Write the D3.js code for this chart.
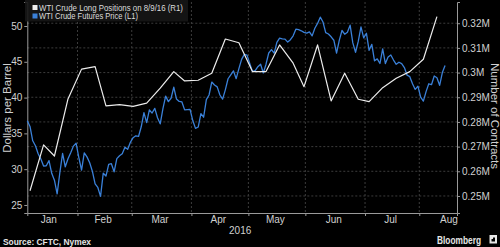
<!DOCTYPE html>
<html><head><meta charset="utf-8">
<script src="https://cdn.jsdelivr.net/npm/d3@7"></script>
<style>
html,body{margin:0;padding:0;background:#000;}
svg{display:block;}
text{font-family:"Liberation Sans",Arial,sans-serif;}
</style></head>
<body>
<svg id="chart" width="500" height="247"></svg>
<script>
// ---------------- data ----------------
const holidays = ["2016-01-18","2016-02-15","2016-03-25","2016-05-30","2016-07-04"];
const monthLabels = ["Jan","Feb","Mar","Apr","May","Jun","Jul","Aug"];
const yearLabel = "2016";
const leftTicks = [25,30,35,40,45,50];
const rightTicks = [0.25,0.26,0.27,0.28,0.29,0.30,0.31,0.32];
const seriesNames = ["WTI Crude Long Positions on 8/9/16 (R1)","WTI Crude Futures Price (L1)"];

// WTI crude futures price, one value per trading day from 2016-01-04 to 2016-08-12 (USD/bbl)
const priceJan = [36.76,35.97,33.97,33.27,32.16,31.41,30.44,30.48,31.20,29.42,28.46,26.55,29.53,32.19,30.34,31.45,32.30,33.22,33.62];
const priceFeb = [31.62,29.88,32.28,31.72,30.89,29.69,27.94,27.45,26.21,29.44,29.04,30.66,30.77,29.64,31.48,31.87,32.15,33.07,32.78,33.75];
const priceMar = [34.40,34.66,34.57,35.92,37.90,36.50,38.29,37.84,38.50,37.18,36.34,38.46,40.20,39.44,39.91,41.45,39.79,39.46,39.39,38.28,38.32,38.34];
const priceApr = [36.79,35.70,35.89,37.75,37.26,39.72,40.36,42.17,41.76,41.50,40.36,39.78,41.08,42.63,43.18,43.73,42.64,44.04,45.33,46.03,45.92];
const priceMay = [44.78,43.65,43.78,44.32,44.66,43.44,44.66,46.23,46.70,46.21,47.72,48.31,48.19,48.16,47.75,48.08,48.62,49.56,49.48,49.33,49.10];
const priceJun = [49.01,49.17,48.62,49.69,50.36,51.23,50.56,49.07,48.88,48.49,48.01,46.21,47.98,49.37,48.85,49.13,50.11,47.64,46.33,47.85,49.88,48.33];
const priceJul = [48.99,46.60,47.43,45.14,45.41,44.76,46.80,44.75,45.68,45.95,45.24,44.65,44.94,44.75,44.19,43.13,42.92,41.92,41.14,41.60];
const priceAug = [40.06,39.51,40.83,41.93,41.80,43.02,42.77,41.71,43.49,44.49];

// CFTC long positions (millions of contracts), weekly Tuesdays 2016-01-05 .. 2016-08-09
const positions = [0.2521,0.2707,0.2662,0.2893,0.3014,0.3024,0.2865,0.2870,0.2863,0.2876,0.2937,0.3004,0.2966,0.2969,0.2997,0.3136,0.3121,0.3004,0.3004,0.3112,0.3038,0.2943,0.3112,0.2885,0.2997,0.2892,0.2882,0.2939,0.2977,0.3004,0.3054,0.3227];

// ---------------- calendar (trading days) ----------------
const fmt = d3.utcFormat("%Y-%m-%d");
const tradingDays = d3.utcDays(new Date(Date.UTC(2016,0,4)), new Date(Date.UTC(2016,8,1)))
  .filter(d => d.getUTCDay() !== 0 && d.getUTCDay() !== 6 && !holidays.includes(fmt(d)));
const dayIndex = new Map(tradingDays.map((d,i)=>[fmt(d), i]));

const prices = [].concat(priceJan,priceFeb,priceMar,priceApr,priceMay,priceJun,priceJul,priceAug);
const priceData = prices.map((v,i)=>({i, v}));
const posData = positions.map((v,k)=>{
  const d = new Date(Date.UTC(2016,0,5 + 7*k));
  return {i: dayIndex.get(fmt(d)), v};
});

// ---------------- layout ----------------
const svg = d3.select("#chart");
const L = 27.3, R = 457, T = 2, B = 213;
const x = d3.scaleLinear().domain([0, 158.4]).range([L, R]);
const yL = d3.scaleLinear().domain([23.88, 53.35]).range([B, T]);
const yR = d3.scaleLinear().domain([0.2431, 0.3286]).range([B, T]);

svg.append("rect").attr("width",500).attr("height",247).attr("fill","#000");

// month boundaries
const months = d3.range(0,8).map(m=>{
  const idx = tradingDays.map((d,i)=>[d,i]).filter(([d])=>d.getUTCMonth()===m).map(([,i])=>i);
  return {m, first: d3.min(idx), last: d3.max(idx)};
});
const boundaries = months.slice(1).map(o=>o.first - 0.5);

const grid = svg.append("g");
grid.selectAll("line.h").data(rightTicks).join("line")
  .attr("x1",L).attr("x2",R).attr("y1",d=>yR(d)).attr("y2",d=>yR(d))
  .attr("stroke","#3c3c3c").attr("stroke-width",1).attr("stroke-dasharray","2,2");
grid.selectAll("line.v").data(boundaries).join("line")
  .attr("x1",d=>x(d)).attr("x2",d=>x(d)).attr("y1",T).attr("y2",B)
  .attr("stroke","#3c3c3c").attr("stroke-width",1).attr("stroke-dasharray","2,2");

// axes
const axisColor = "#9a9a9a", labelColor = "#d0d0d0";
const gl = svg.append("g").attr("transform",`translate(${L},0)`)
  .call(d3.axisLeft(yL).tickValues(leftTicks).tickSize(3).tickPadding(2).tickFormat(d3.format("d")));
const gr = svg.append("g").attr("transform",`translate(${R},0)`)
  .call(d3.axisRight(yR).tickValues(rightTicks).tickSize(3).tickPadding(2).tickFormat(d=>(+d.toFixed(2))+"M"));
const gb = svg.append("g").attr("transform",`translate(0,${B})`)
  .call(d3.axisBottom(x).tickValues(boundaries).tickSize(3).tickFormat(""));
[gl,gr,gb].forEach(g=>{
  g.select(".domain").attr("stroke",axisColor);
  g.selectAll(".tick line").attr("stroke",axisColor);
  g.selectAll(".tick text").attr("fill",labelColor).attr("font-size",10)
    .attr("font-family","'Liberation Sans',Arial,sans-serif");
});

// month labels
svg.append("g").selectAll("text").data(months).join("text")
  .attr("x", d => x((d.first + (d.m===0 ? -1 : 0) + d.last)/2) - 1.5)
  .attr("y", 223).attr("text-anchor","middle").attr("fill",labelColor).attr("font-size",10)
  .text(d=>monthLabels[d.m]);
svg.append("text").attr("x",(L+R)/2-2).attr("y",234).attr("text-anchor","middle")
  .attr("fill",labelColor).attr("font-size",10).text(yearLabel);

// axis titles
svg.append("text").attr("transform","translate(11,108) rotate(-90)").attr("text-anchor","middle")
  .attr("fill",labelColor).attr("font-size",11.5).text("Dollars per Barrel");
svg.append("text").attr("transform","translate(491,116) rotate(90)").attr("text-anchor","middle")
  .attr("fill",labelColor).attr("font-size",11.5).text("Number of Contracts");

// lines
const lineL = d3.line().x(d=>x(d.i)).y(d=>yL(d.v));
const lineR = d3.line().x(d=>x(d.i)).y(d=>yR(d.v));
svg.append("path").datum(priceData).attr("d",lineL).attr("fill","none")
  .attr("stroke","#3a80d8").attr("stroke-width",1.3).attr("stroke-linejoin","round");
svg.append("path").datum(posData).attr("d",lineR).attr("fill","none")
  .attr("stroke","#ececec").attr("stroke-width",1.2).attr("stroke-linejoin","round");

// legend
const lg = svg.append("g");
lg.append("rect").attr("x",25).attr("y",0).attr("width",163).attr("height",21.5)
  .attr("fill","#161616").attr("opacity",0.9);
const legendColors = ["#f0f0f0","#3a80d8"];
seriesNames.forEach((n,k)=>{
  lg.append("rect").attr("x",32.5).attr("y",5+k*8.5).attr("width",5).attr("height",5).attr("fill",legendColors[k]);
  lg.append("text").attr("x",39).attr("y",10.5+k*8.5).attr("fill","#dcdcdc").attr("font-size",9)
    .attr("textLength", k===0 ? 144 : 99).attr("lengthAdjust","spacingAndGlyphs").text(n);
});

// footer
svg.append("text").attr("x",3).attr("y",245).attr("fill","#e6e6e6").attr("font-size",9)
  .attr("font-weight","bold").attr("textLength",88).attr("lengthAdjust","spacingAndGlyphs")
  .text("Source: CFTC, Nymex");
svg.append("text").attr("x",437).attr("y",244).attr("fill","#e6e6e6").attr("font-size",10.5)
  .attr("font-weight","bold").attr("textLength",44).attr("lengthAdjust","spacingAndGlyphs").text("Bloomberg");
svg.append("rect").attr("x",489.5).attr("y",235).attr("width",7.5).attr("height",8.5).attr("fill","#e6e6e6");
svg.append("path").attr("d","M491.5,241.5 L491.5,239 L493,239 L493,237.5 L495,237.5 L495,241.5 Z").attr("fill","#000");
</script>
</body></html>
